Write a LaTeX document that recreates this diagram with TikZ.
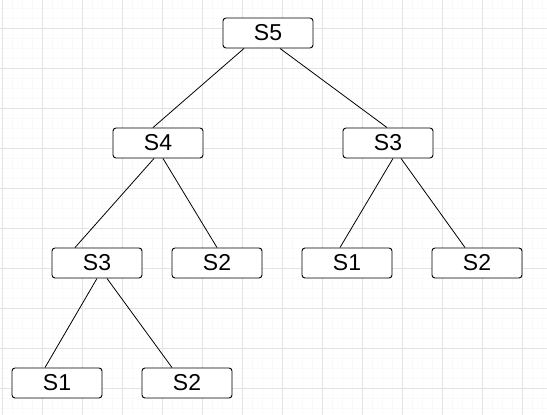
\documentclass[tikz,border=0pt]{standalone}
\usepackage{fontspec}
\setmainfont{Liberation Sans}
\begin{document}
\begin{tikzpicture}[x=1pt,y=-1pt,
    box/.style={draw,rounded corners=3pt,fill=white,line width=.9pt,minimum width=90pt,minimum height=30pt,inner sep=0pt,font=\fontsize{23}{27}\selectfont},
    edge/.style={line width=.8pt}]
\useasboundingbox (0,0) rectangle (547,415);
% grid
\foreach \x in {2,12,...,547} \draw[gray!5,line width=.6pt](\x,0)--(\x,415);
\foreach \y in {8,18,...,415} \draw[gray!5,line width=.6pt](0,\y)--(547,\y);
\foreach \x in {2,42,...,547} \draw[gray!22,line width=.6pt](\x,0)--(\x,415);
\foreach \y in {28,68,...,415} \draw[gray!22,line width=.6pt](0,\y)--(547,\y);

\node[box](s5) at (268,33){S5};
\node[box](s4) at (158,143){S4};
\node[box](s3r) at (388,143){S3};
\node[box](s3l) at (97,263){S3};
\node[box](s2m) at (217,263){S2};
\node[box](s1r) at (347,263){S1};
\node[box](s2r) at (477,263){S2};
\node[box](s1b) at (57,383){S1};
\node[box](s2b) at (187,383){S2};

\draw[edge]([xshift=-24pt]s5.south)--([xshift=-5pt]s4.north);
\draw[edge]([xshift=12pt]s5.south)--([xshift=-1pt]s3r.north);
\draw[edge]([xshift=-4pt]s4.south)--([xshift=-22pt]s3l.north);
\draw[edge]([xshift=5pt]s4.south)--(s2m.north);
\draw[edge](s3l.south)--([xshift=-12pt]s1b.north);
\draw[edge]([xshift=10pt]s3l.south)--([xshift=-15pt]s2b.north);
\draw[edge]([xshift=5pt]s3r.south)--([xshift=-7pt]s1r.north);
\draw[edge]([xshift=13pt]s3r.south)--([xshift=-12pt]s2r.north);
\end{tikzpicture}
\end{document}
